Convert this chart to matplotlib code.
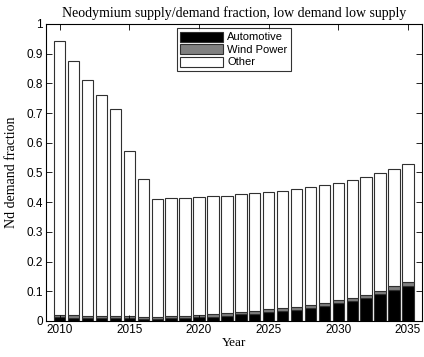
import matplotlib
matplotlib.use("Agg")
import matplotlib.pyplot as plt
import numpy as np

years = list(range(2010, 2036))
automotive = [0.012, 0.011, 0.010, 0.010, 0.010, 0.009, 0.008, 0.008, 0.009, 0.010,
              0.012, 0.014, 0.018, 0.022, 0.025, 0.029, 0.033, 0.038, 0.044, 0.051,
              0.059, 0.067, 0.078, 0.090, 0.104, 0.119]
wind_power = [0.008, 0.009, 0.007, 0.008, 0.008, 0.007, 0.006, 0.006, 0.006, 0.007,
              0.007, 0.008, 0.009, 0.009, 0.009, 0.010, 0.010, 0.010, 0.010, 0.010,
              0.010, 0.011, 0.011, 0.011, 0.012, 0.012]
other = [0.924, 0.855, 0.795, 0.742, 0.697, 0.556, 0.464, 0.398, 0.398, 0.398,
         0.399, 0.398, 0.395, 0.396, 0.396, 0.394, 0.396, 0.395, 0.396, 0.397,
         0.397, 0.397, 0.397, 0.397, 0.396, 0.398]
series_labels = ["Automotive", "Wind Power", "Other"]
xtick_years = [2010, 2015, 2020, 2025, 2030, 2035]
yticks = [0, 0.1, 0.2, 0.3, 0.4, 0.5, 0.6, 0.7, 0.8, 0.9, 1]
ytick_labels = ["0", "0.1", "0.2", "0.3", "0.4", "0.5", "0.6", "0.7", "0.8", "0.9", "1"]

fig = plt.figure(figsize=(4.24, 3.57), dpi=100)
ax = fig.add_axes([0.108, 0.101, 0.887, 0.832])

serif = ["Liberation Serif", "DejaVu Serif"]
sans = ["Liberation Sans", "DejaVu Sans"]

a = np.array(automotive)
w = np.array(wind_power)
o = np.array(other)
colors = ["black", "#808080", "white"]
width = 0.82
ec = "#303030"
lw = 0.8
ax.bar(years, a, width, color=colors[0], edgecolor=ec, linewidth=lw, label=series_labels[0])
ax.bar(years, w, width, bottom=a, color=colors[1], edgecolor=ec, linewidth=lw, label=series_labels[1])
ax.bar(years, o, width, bottom=a + w, color=colors[2], edgecolor=ec, linewidth=lw, label=series_labels[2])

ax.set_xlim(2009, 2036)
ax.set_ylim(0, 1)
ax.set_xticks(xtick_years)
ax.set_xticklabels([str(y) for y in xtick_years], fontfamily=sans, fontsize=8.5)
ax.set_yticks(yticks)
ax.set_yticklabels(ytick_labels, fontfamily=sans, fontsize=8.5)
ax.tick_params(direction="in", top=True, right=True, length=4, width=0.6, pad=2)
for s in ax.spines.values():
    s.set_linewidth(0.8)

ax.set_title("Neodymium supply/demand fraction, low demand low supply",
             fontfamily=serif, fontsize=10, pad=5)
ax.set_xlabel("Year", fontfamily=serif, fontsize=9.5, labelpad=1)
ax.set_ylabel("Nd demand fraction", fontfamily=serif, fontsize=10, labelpad=6)

leg = ax.legend(loc="upper center", bbox_to_anchor=(0.5, 1.0), prop={"family": sans, "size": 8},
                frameon=True, fancybox=False, edgecolor="black", handlelength=3.8,
                handleheight=1.0, borderpad=0.3, labelspacing=0.15, handletextpad=0.4,
                borderaxespad=0.4)
leg.get_frame().set_linewidth(0.8)

fig.savefig("out.png", dpi=100)
